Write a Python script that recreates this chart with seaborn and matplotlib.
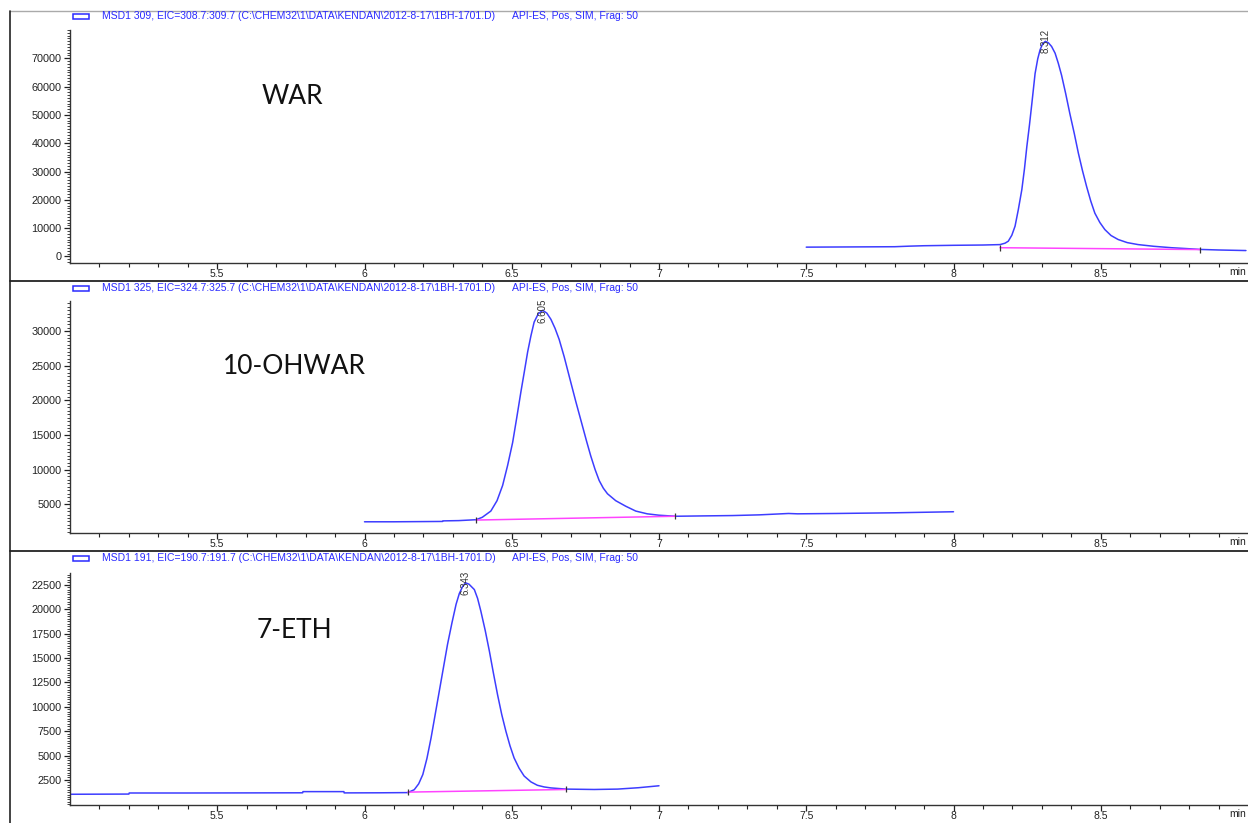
import numpy as np
import pandas as pd
import matplotlib
matplotlib.use("Agg")
import matplotlib.pyplot as plt
from matplotlib.ticker import MultipleLocator, FixedLocator
from matplotlib.patches import Rectangle
from matplotlib.lines import Line2D
import seaborn as sns

sns.set_style("ticks")
plt.rcParams["font.family"] = ["Liberation Sans", "DejaVu Sans"]

# ---------------- data ----------------
compounds = ["WAR", "10-OHWAR", "7-ETH"]
headers = [
    "MSD1 309, EIC=308.7:309.7 (C:\\CHEM32\\1\\DATA\\KENDAN\\2012-8-17\\1BH-1701.D)",
    "MSD1 325, EIC=324.7:325.7 (C:\\CHEM32\\1\\DATA\\KENDAN\\2012-8-17\\1BH-1701.D)",
    "MSD1 191, EIC=190.7:191.7 (C:\\CHEM32\\1\\DATA\\KENDAN\\2012-8-17\\1BH-1701.D)",
]
method_text = "API-ES, Pos, SIM, Frag: 50"

# WAR, m/z 309
war_time = [7.50, 7.60, 7.70, 7.80, 7.85, 7.90, 8.00, 8.10, 8.158, 8.175, 8.186,
            8.198, 8.209, 8.220, 8.232, 8.241, 8.249, 8.258, 8.266, 8.277, 8.286,
            8.294, 8.303, 8.312, 8.322, 8.333, 8.345, 8.356, 8.367, 8.381, 8.395,
            8.410, 8.424, 8.438, 8.452, 8.466, 8.480, 8.497, 8.514, 8.535, 8.559,
            8.590, 8.627, 8.680, 8.740, 8.790, 8.836, 8.900, 8.993]
war_abund = [3300, 3350, 3400, 3450, 3650, 3800, 3950, 4050, 4200, 4700, 5400,
             7500, 10700, 16500, 23600, 31000, 38800, 46500, 54000, 64600, 69800,
             73000, 75200, 76000, 75500, 74200, 71800, 68200, 64000, 57500, 50500,
             43500, 36500, 30300, 24700, 19600, 15300, 12000, 9500, 7400, 6000,
             4900, 4200, 3600, 3100, 2800, 2500, 2300, 2100]

# 10-OHWAR, m/z 325
ohwar_time = [6.00, 6.10, 6.20, 6.265, 6.266, 6.32, 6.379, 6.400, 6.429, 6.450,
              6.469, 6.486, 6.503, 6.517, 6.531, 6.543, 6.554, 6.565, 6.576, 6.590,
              6.605, 6.619, 6.633, 6.647, 6.661, 6.678, 6.695, 6.717, 6.740, 6.754,
              6.768, 6.783, 6.797, 6.811, 6.825, 6.839, 6.853, 6.887, 6.921, 6.960,
              7.000, 7.056, 7.15, 7.25, 7.34, 7.44, 7.47, 7.60, 7.80, 8.00]
ohwar_abund = [2450, 2450, 2480, 2500, 2580, 2620, 2750, 3100, 4000, 5500,
               7700, 10600, 13900, 17500, 21200, 24200, 27000, 29300, 31300, 32500,
               33000, 32600, 31700, 30400, 28800, 26300, 23500, 19900, 16300, 14100,
               12000, 10000, 8400, 7300, 6500, 6000, 5500, 4700, 4000, 3600,
               3400, 3250, 3300, 3350, 3450, 3650, 3600, 3650, 3750, 3900]

# 7-ETH, m/z 191
eth_time = [5.00, 5.10, 5.20, 5.201, 5.40, 5.60, 5.79, 5.791, 5.93, 5.931, 6.05,
            6.147, 6.169, 6.184, 6.198, 6.212, 6.226, 6.240, 6.254, 6.268, 6.282,
            6.297, 6.311, 6.322, 6.333, 6.343, 6.355, 6.373, 6.384, 6.395, 6.410,
            6.424, 6.438, 6.452, 6.466, 6.480, 6.494, 6.508, 6.525, 6.542, 6.565,
            6.587, 6.610, 6.633, 6.684, 6.78, 6.86, 6.93, 7.00]
eth_abund = [1030, 1040, 1050, 1160, 1160, 1170, 1180, 1300, 1300, 1170, 1180,
             1200, 1500, 2100, 3050, 4700, 6800, 9200, 11600, 14000, 16400,
             18600, 20500, 21600, 22300, 22700, 22550, 22000, 21100, 19800, 17800,
             15700, 13400, 11200, 9200, 7500, 6000, 4750, 3700, 2900, 2300,
             1950, 1780, 1680, 1560, 1520, 1560, 1700, 1900]

# integration baselines (start, end)
baseline_time = [[8.158, 8.836], [6.379, 7.056], [6.147, 6.684]]
baseline_abund = [[3100, 2450], [2700, 3250], [1250, 1520]]

# apex retention times and heights
peak_rt = [8.312, 6.605, 6.343]
peak_height = [76000, 33000, 22700]

# y axis settings per panel
y_limits = [(-2300, 80000), (830, 34350), (-70, 23700)]
y_major = [list(range(0, 70001, 10000)),
           list(range(5000, 30001, 5000)),
           list(range(2500, 22501, 2500))]
y_minor = [1000, 500, 250]

x_major = [5.5, 6.0, 6.5, 7.0, 7.5, 8.0, 8.5]
x_major_labels = ["5.5", "6", "6.5", "7", "7.5", "8", "8.5"]

traces = [(war_time, war_abund), (ohwar_time, ohwar_abund), (eth_time, eth_abund)]

# ---------------- layout ----------------
W, H = 1248, 823
fig = plt.figure(figsize=(W / 100, H / 100), dpi=100)
fig.patch.set_facecolor("white")

# pixel boxes of each plotting area (top, bottom)
panel_px = [(30, 263), (301, 533), (573, 805)]
header_y = [16, 288, 558]
label_pos = [(292, 97), (294, 366), (294, 630)]
sep_y = [11, 281, 551]

trace_color = "#3d3dff"
base_color = "#ff44ff"
head_color = "#2a2aff"
tick_color = "#222222"


def fy(py):
    return 1 - py / H


for i in range(3):
    top, bot = panel_px[i]
    ax = fig.add_axes([70 / W, fy(bot), (W - 70) / W, (bot - top) / H])
    ax.set_facecolor("none")
    t, a = traces[i]
    df = pd.DataFrame({"time": t, "abundance": a})
    sns.lineplot(data=df, x="time", y="abundance", ax=ax, color=trace_color,
                 lw=1.1, estimator=None, sort=False)
    bdf = pd.DataFrame({"time": baseline_time[i], "abundance": baseline_abund[i]})
    sns.lineplot(data=bdf, x="time", y="abundance", ax=ax, color=base_color,
                 lw=1.1, estimator=None, sort=False)
    ax.plot(baseline_time[i], baseline_abund[i], ls="none", marker="|",
            ms=5, mew=0.9, color="#333333")

    ax.text(peak_rt[i], peak_height[i], f"{peak_rt[i]:.3f}", rotation=90,
            ha="center", va="center", fontsize=7, color="#333333")

    ax.set_xlim(5.0, 9.0)
    ax.set_ylim(*y_limits[i])
    ax.set_xlabel("")
    ax.set_ylabel("")
    ax.xaxis.set_major_locator(FixedLocator(x_major))
    ax.set_xticklabels(x_major_labels)
    ax.xaxis.set_minor_locator(FixedLocator([round(5.1 + 0.1 * k, 1) for k in range(39)]))
    ax.yaxis.set_major_locator(FixedLocator(y_major[i]))
    ax.set_yticklabels([str(v) for v in y_major[i]])
    ax.yaxis.set_minor_locator(MultipleLocator(y_minor[i]))
    ax.tick_params(axis="x", which="major", length=4, width=0.9, labelsize=7.5,
                   pad=0.5, colors=tick_color, direction="out")
    ax.tick_params(axis="x", which="minor", length=3, width=0.8, colors=tick_color,
                   direction="out")
    ax.tick_params(axis="y", which="major", length=4, width=0.9, labelsize=7.8,
                   pad=2, colors=tick_color, direction="out")
    ax.tick_params(axis="y", which="minor", length=2, width=0.6, colors=tick_color,
                   direction="out")
    for s in ["top", "right"]:
        ax.spines[s].set_visible(False)
    for s in ["left", "bottom"]:
        ax.spines[s].set_color("#333333")
        ax.spines[s].set_linewidth(1.0)

    # compound name
    lx, ly = label_pos[i]
    fig.text(lx / W, fy(ly), compounds[i], ha="center", va="center",
             fontsize=19, family=["Lato", "DejaVu Sans"], color="#111111")

    # signal header with legend swatch
    hy = header_y[i]
    fig.patches.append(Rectangle((73 / W, fy(hy + 3)), 16 / W, 5 / H,
                                 transform=fig.transFigure, fill=False,
                                 edgecolor=head_color, lw=1.1))
    fig.text(102 / W, fy(hy), headers[i], ha="left", va="center",
             fontsize=7.5, color=head_color)
    fig.text(512 / W, fy(hy), method_text, ha="left", va="center",
             fontsize=7.5, color=head_color)

    # time unit at the right end of the axis
    fig.text(1246 / W, fy(bot + 9), "min", ha="right", va="center",
             fontsize=7.5, color=tick_color)

# window frame lines
fig.add_artist(Line2D([10 / W, 1], [fy(11), fy(11)], transform=fig.transFigure,
                      color="#aaaaaa", lw=1.0))
for yy in sep_y[1:]:
    fig.add_artist(Line2D([10 / W, 1], [fy(yy), fy(yy)], transform=fig.transFigure,
                          color="#333333", lw=1.4))
fig.add_artist(Line2D([10 / W, 10 / W], [fy(11), 0], transform=fig.transFigure,
                      color="#222222", lw=1.2))

fig.savefig("out.png", dpi=100, facecolor="white")
